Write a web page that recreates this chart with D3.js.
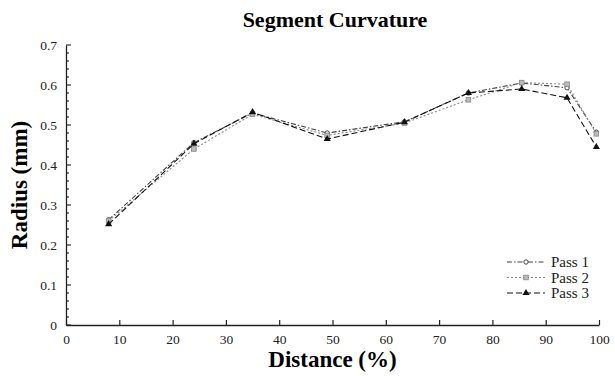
<!DOCTYPE html>
<html><head><meta charset="utf-8">
<script src="https://cdn.jsdelivr.net/npm/d3@7"></script>
<style>body{margin:0;background:#fff}text{font-family:"Liberation Serif","Times New Roman",serif}</style>
</head><body><svg id="c" width="615" height="376"></svg>
<script>
const distance = [8, 24, 35, 49, 63.5, 75.5, 85.5, 94, 99.5];
const pass1 = [0.263, 0.456, 0.530, 0.480, 0.508, 0.580, 0.605, 0.593, 0.482];
const pass2 = [0.260, 0.440, 0.527, 0.474, 0.505, 0.563, 0.606, 0.602, 0.478];
const pass3 = [0.252, 0.453, 0.532, 0.465, 0.507, 0.580, 0.590, 0.568, 0.445];
const seriesNames = ["Pass 1", "Pass 2", "Pass 3"];
const xTicks = [0,10,20,30,40,50,60,70,80,90,100];
const yTicks = [0,0.1,0.2,0.3,0.4,0.5,0.6,0.7];

const svg = d3.select("#c");
const m = {l:66, r:16, t:45, b:51};
const W = 615, H = 376;
const x = d3.scaleLinear().domain([0,100]).range([m.l, W-m.r]);
const y = d3.scaleLinear().domain([0,0.7]).range([H-m.b, m.t]);

svg.append("text").attr("x",335).attr("y",27).attr("text-anchor","middle")
  .attr("font-size",22).attr("font-weight","bold").text("Segment Curvature");

// x axis
const gx = svg.append("g").attr("transform",`translate(0,${y(0)})`)
  .call(d3.axisBottom(x).tickValues(xTicks).tickSize(0).tickPadding(9).tickFormat(d3.format("d")));
gx.select(".domain").attr("stroke","#222").attr("stroke-width",1.3);
gx.selectAll("text").attr("font-size",13.5).attr("fill","#222").attr("font-family","Liberation Serif, serif");
gx.selectAll(".tick").append("line").attr("y1",0).attr("y2",-5).attr("stroke","#222").attr("stroke-width",1.2);

// y axis
const gy = svg.append("g").attr("transform",`translate(${x(0)},0)`)
  .call(d3.axisLeft(y).tickValues(yTicks).tickSize(0).tickPadding(9).tickFormat(d => d===0?"0":d3.format(".1f")(d)));
gy.select(".domain").attr("stroke","#222").attr("stroke-width",1.3);
gy.selectAll("text").attr("font-size",13.5).attr("fill","#222").attr("font-family","Liberation Serif, serif");
const minor = d3.range(0, 0.7001, 0.02);
gy.selectAll(".mt").data(minor).enter().append("line")
  .attr("x1",0).attr("x2",d => Math.abs(Math.round(d*10)-d*10)<1e-6 ? 5 : 3)
  .attr("y1",d=>y(d)).attr("y2",d=>y(d)).attr("stroke","#222").attr("stroke-width",1.1);

svg.append("text").attr("transform",`translate(27,${(m.t+H-m.b)/2}) rotate(-90)`)
  .attr("text-anchor","middle").attr("font-size",23).attr("font-weight","bold").text("Radius (mm)");
svg.append("text").attr("x",(x(0)+x(100))/2).attr("y",367).attr("text-anchor","middle")
  .attr("font-size",23).attr("font-weight","bold").text("Distance (%)");

const styles = [
  {vals:pass1, color:"#444", dash:"5,2,1.5,2", marker:"circle"},
  {vals:pass2, color:"#888", dash:"2,2", marker:"square"},
  {vals:pass3, color:"#111", dash:"6,3", marker:"triangle"}
];
const line = d3.line().x(d=>x(d[0])).y(d=>y(d[1]));
function drawMarker(g, type, cx, cy, color){
  if(type==="circle") g.append("circle").attr("cx",cx).attr("cy",cy).attr("r",2.2).attr("fill","#fff").attr("stroke",color).attr("stroke-width",1);
  else if(type==="square") g.append("rect").attr("x",cx-2.3).attr("y",cy-2.3).attr("width",4.6).attr("height",4.6).attr("fill","#bbb").attr("stroke",color).attr("stroke-width",0.8);
  else g.append("path").attr("d",d3.symbol(d3.symbolTriangle,22)()).attr("transform",`translate(${cx},${cy})`).attr("fill",color);
}
styles.forEach(s=>{
  const pts = distance.map((d,i)=>[d,s.vals[i]]);
  svg.append("path").attr("d",line(pts)).attr("fill","none").attr("stroke",s.color).attr("stroke-width",1.1).attr("stroke-dasharray",s.dash);
  const g = svg.append("g");
  pts.forEach(p=>drawMarker(g,s.marker,x(p[0]),y(p[1]),s.color));
});

// legend
styles.forEach((s,i)=>{
  const ly = 262 + i*15.5;
  svg.append("line").attr("x1",507).attr("x2",545).attr("y1",ly).attr("y2",ly)
    .attr("stroke",s.color).attr("stroke-width",1.1).attr("stroke-dasharray",s.dash);
  drawMarker(svg,s.marker,526,ly,s.color);
  svg.append("text").attr("x",551).attr("y",ly+5).attr("font-size",15).attr("fill","#222").text(seriesNames[i]);
});
</script></body></html>
